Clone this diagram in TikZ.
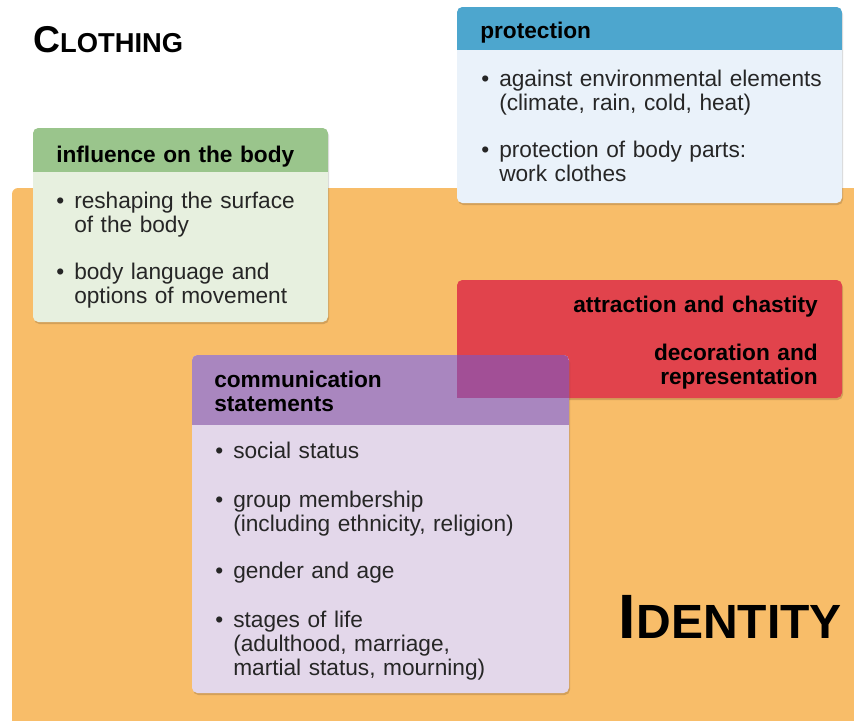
\documentclass[tikz,border=0pt]{standalone}
\usepackage{fontspec}
\setmainfont{Liberation Sans}
\usepackage{xcolor}

% Colours
\definecolor{idorange}{RGB}{248,189,105}
\definecolor{greenhead}{RGB}{154,197,140}
\definecolor{greenbody}{RGB}{231,240,223}
\definecolor{bluehead}{RGB}{77,166,206}
\definecolor{bluebody}{RGB}{234,242,250}
\definecolor{redbox}{RGB}{225,67,76}
\definecolor{purplehead}{RGB}{169,134,191}
\definecolor{purplebody}{RGB}{227,215,234}
\definecolor{overlap}{RGB}{162,79,150}

% Bullet with its lines kept together
\newcommand{\bitem}[1]{\makebox[13.5pt][l]{\textbullet}\parbox[t]{260pt}{#1}}
\newcommand{\bgap}{\par\vspace{18.75pt}}

\tikzset{
  boxshade/.style={fill=black, fill opacity=0.15, rounded corners=4pt},
  headtext/.style={anchor=base west, inner sep=0pt, text width=300pt, align=left,
    font=\bfseries\fontsize{17}{18}\selectfont},
  listtext/.style={anchor=base west, inner sep=0pt, text width=280pt, align=left,
    text=black!85, font=\fontsize{17}{18}\selectfont}
}

\begin{document}
\begin{tikzpicture}[x=0.75pt, y=-0.75pt]

    % Frame of the picture
    \clip (0,0) rectangle (854,721);

    % Identity field
    \fill[idorange, rounded corners=4.5pt] (12,188) rectangle (880,760);

    % Influence on the body
    \fill[boxshade] (34,130) rectangle (329,324);
    \fill[greenbody, rounded corners=4pt] (33,128) rectangle (328,322);
    \begin{scope}
        \clip[rounded corners=4pt] (33,128) rectangle (328,322);
        \fill[greenhead] (33,128) rectangle (328,172);
    \end{scope}
    \node[headtext] (bodyHead) at (56,162) {influence on the body};
    \node[listtext] (bodyList) at (56,208)
        {\bitem{reshaping the surface\\of the body}\bgap
         \bitem{body language and\\options of movement}};

    % Protection
    \fill[boxshade] (458,9) rectangle (843,205);
    \fill[bluebody, rounded corners=4pt] (457,7) rectangle (842,203);
    \begin{scope}
        \clip[rounded corners=4pt] (457,7) rectangle (842,203);
        \fill[bluehead] (457,7) rectangle (842,50);
    \end{scope}
    \node[headtext] (protHead) at (480,38) {protection};
    \node[listtext] (protList) at (481,86)
        {\bitem{against environmental elements\\(climate, rain, cold, heat)}\bgap
         \bitem{protection of body parts:\\work clothes}};

    % Attraction and decoration
    \fill[boxshade] (458,282) rectangle (843,400);
    \fill[redbox, rounded corners=4pt] (457,280) rectangle (842,398);
    \node[headtext, anchor=base east, align=right] (redText) at (818,312)
        {attraction and chastity\par\vspace{18pt}decoration and\\representation};

    % Communication statements
    \fill[boxshade] (193,357) rectangle (570,695);
    \fill[purplebody, rounded corners=4pt] (192,355) rectangle (569,693);
    \begin{scope}
        \clip[rounded corners=4pt] (192,355) rectangle (569,693);
        \fill[purplehead] (192,355) rectangle (569,425);
        \fill[overlap] (457,355) rectangle (569,398);
    \end{scope}
    \node[headtext] (commHead) at (214,387) {communication\\statements};
    \node[listtext] (commList) at (215,458)
        {\bitem{social status}\bgap
         \bitem{group membership\\(including ethnicity, religion)}\bgap
         \bitem{gender and age}\bgap
         \bitem{stages of life\\(adulthood, marriage,\\martial status, mourning)}};

    % Titles
    \node[anchor=base west, inner sep=0pt, font=\bfseries] (clothTitle) at (33,52)
        {{\fontsize{28}{28}\selectfont C}{\fontsize{20.5}{21}\selectfont LOTHING}};
    \node[anchor=base east, inner sep=0pt, font=\bfseries] (identTitle) at (842,638)
        {{\fontsize{47}{47}\selectfont I}{\fontsize{36}{36}\selectfont DENTITY}};

\end{tikzpicture}
\end{document}
